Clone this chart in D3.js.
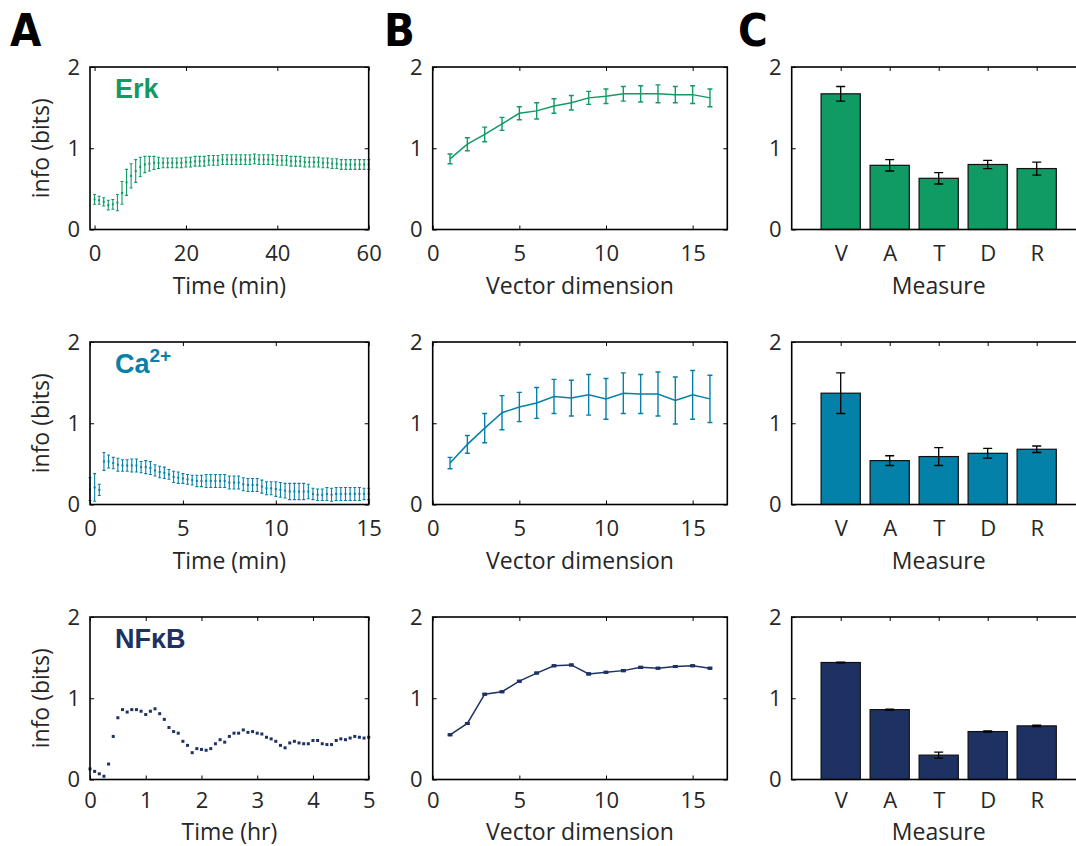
<!DOCTYPE html>
<html>
<head>
<meta charset="utf-8">
<script src="https://cdn.jsdelivr.net/npm/d3@7/dist/d3.min.js"></script>
<style>
  body { margin: 0; background: #fff; }
  svg { display: block; }
  .tick text { font-family: "Open Sans", sans-serif; font-size: 22px; fill: #262626; }
  .title { font-family: "Open Sans", sans-serif; font-size: 23px; fill: #262626; }
  .panel-letter { font-family: "Liberation Sans Narrow", "DejaVu Sans Condensed", sans-serif; font-weight: bold; font-size: 45px; fill: #000; }
  .series-name { font-family: "Liberation Sans", Arial, sans-serif; font-weight: bold; font-size: 27px; }
</style>
</head>
<body>
<div id="chart-area"></div>
<script>
// ---- data ----
const colors = { erk: "#0f9b63", ca: "#0481a9", nfkb: "#1d3163" };

// column A: time courses (Erk: 1 min steps, Ca: 15 s steps, NFkB: 5 min steps in hr)
const erkStep = 1, caStep = 0.25, nfkbStep = 1 / 12;
const erkInfo = [0.37,0.36,0.34,0.30,0.31,0.33,0.45,0.58,0.66,0.72,0.77,0.80,0.81,0.82,0.82,0.82,0.82,0.82,0.82,0.82,
  0.83,0.83,0.84,0.84,0.84,0.85,0.85,0.85,0.86,0.86,0.86,0.86,0.86,0.86,0.86,0.87,0.86,0.86,0.86,0.86,
  0.85,0.85,0.85,0.84,0.84,0.84,0.83,0.83,0.83,0.83,0.82,0.82,0.81,0.81,0.80,0.80,0.80,0.80,0.80,0.80,0.80];
const erkErr = [0.06,0.05,0.05,0.06,0.06,0.10,0.14,0.16,0.15,0.14,0.12,0.10,0.09,0.08,0.07,0.06,0.06,0.06,0.06,0.06,
  0.06,0.06,0.06,0.06,0.06,0.06,0.06,0.06,0.06,0.06,0.06,0.06,0.06,0.06,0.06,0.06,0.06,0.06,0.06,0.06,
  0.06,0.06,0.06,0.06,0.06,0.06,0.06,0.06,0.06,0.06,0.06,0.06,0.06,0.06,0.06,0.06,0.06,0.06,0.06,0.06,0.06];
const caInfo = [0.19,0.21,0.18,0.53,0.53,0.51,0.49,0.48,0.48,0.48,0.48,0.46,0.46,0.45,0.42,0.40,0.39,0.37,0.34,0.33,
  0.32,0.31,0.30,0.29,0.29,0.29,0.29,0.29,0.29,0.29,0.27,0.27,0.27,0.25,0.24,0.24,0.24,0.22,0.20,0.20,
  0.19,0.18,0.17,0.16,0.16,0.16,0.16,0.16,0.13,0.12,0.12,0.13,0.12,0.13,0.13,0.13,0.13,0.13,0.13,0.13,0.13];
const caErr = [0.14,0.17,0.07,0.11,0.08,0.07,0.08,0.07,0.07,0.08,0.08,0.07,0.08,0.08,0.07,0.07,0.07,0.06,0.07,0.07,
  0.06,0.06,0.06,0.07,0.07,0.08,0.08,0.08,0.08,0.08,0.08,0.08,0.08,0.08,0.08,0.08,0.08,0.08,0.08,0.08,
  0.09,0.09,0.09,0.10,0.10,0.10,0.10,0.09,0.07,0.07,0.07,0.08,0.08,0.08,0.08,0.08,0.08,0.08,0.08,0.07,0.07];
const nfkbInfo = [0.13,0.10,0.07,0.04,0.19,0.53,0.76,0.86,0.83,0.86,0.86,0.84,0.80,0.84,0.87,0.81,0.74,0.64,0.59,0.57,
  0.47,0.42,0.33,0.38,0.37,0.36,0.38,0.44,0.49,0.46,0.53,0.57,0.57,0.61,0.58,0.59,0.57,0.56,0.52,0.50,
  0.47,0.42,0.39,0.45,0.47,0.45,0.44,0.44,0.48,0.48,0.44,0.43,0.43,0.48,0.50,0.49,0.51,0.53,0.52,0.51,0.52];

// column B: info vs vector dimension
const dims = [1,2,3,4,5,6,7,8,9,10,11,12,13,14,15,16];
const erkVec = [0.87,1.05,1.17,1.30,1.43,1.46,1.52,1.56,1.62,1.64,1.67,1.67,1.67,1.66,1.66,1.62];
const erkVecErr = [0.06,0.08,0.09,0.08,0.08,0.10,0.09,0.09,0.08,0.09,0.09,0.10,0.11,0.10,0.11,0.11];
const caVec = [0.51,0.74,0.94,1.13,1.20,1.25,1.33,1.31,1.35,1.30,1.37,1.36,1.36,1.28,1.35,1.30];
const caVecErr = [0.07,0.11,0.18,0.21,0.18,0.19,0.21,0.22,0.25,0.25,0.25,0.24,0.27,0.29,0.30,0.29];
const nfkbVec = [0.55,0.69,1.05,1.08,1.21,1.31,1.40,1.41,1.30,1.32,1.34,1.38,1.37,1.39,1.40,1.37];
const nfkbVecErr = [0.01,0.01,0.01,0.01,0.01,0.01,0.01,0.01,0.01,0.01,0.01,0.01,0.01,0.01,0.01,0.01];

// column C: info by measure
const measures = ["V", "A", "T", "D", "R"];
const erkMeasure = [1.67, 0.79, 0.63, 0.80, 0.75];
const erkMeasureErr = [0.09, 0.07, 0.07, 0.05, 0.08];
const caMeasure = [1.37, 0.54, 0.59, 0.63, 0.68];
const caMeasureErr = [0.25, 0.06, 0.11, 0.06, 0.04];
const nfkbMeasure = [1.44, 0.86, 0.30, 0.59, 0.66];
const nfkbMeasureErr = [0.005, 0.006, 0.037, 0.008, 0.008];

const yTicks = [0, 1, 2];

// ---- layout ----
const width = 1076, height = 846;
const rowTop = [67, 342, 617];
const tickPad = [16, 16, 13];
const titleOffset = [64, 64, 60];
const panelH = 162.5;
const colA = { x: 90, w: 278.7 }, colB = { x: 432.7, w: 294.6 }, colC = { x: 791.7, w: 294 };

const svg = d3.select("#chart-area").append("svg")
  .attr("width", width).attr("height", height);
svg.append("rect").attr("width", width).attr("height", height).attr("fill", "#fff");

function makePanel(col, r, xDomain, xTicks, xTitle, opts) {
  opts = opts || {};
  const top = rowTop[r];
  const g = svg.append("g");
  const x = d3.scaleLinear().domain(xDomain).range([col.x, col.x + col.w]);
  const y = d3.scaleLinear().domain([0, 2]).range([top + panelH, top]);

  const bottom = d3.axisBottom(x).tickValues(xTicks).tickSize(-4).tickPadding(tickPad[r])
    .tickFormat(opts.tickFormat || d3.format("d"));
  g.append("g").attr("transform", `translate(0,${top + panelH})`).call(bottom);
  g.append("g").attr("transform", `translate(0,${top})`)
    .call(d3.axisTop(x).tickValues(xTicks).tickSize(-4).tickFormat(""));
  g.append("g").attr("transform", `translate(${col.x},0)`)
    .call(d3.axisLeft(y).tickValues(yTicks).tickSize(-4).tickPadding(10).tickFormat(d3.format("d")));
  g.append("g").attr("transform", `translate(${col.x + col.w},0)`)
    .call(d3.axisRight(y).tickValues(yTicks).tickSize(-4).tickFormat(""));
  g.selectAll(".domain").remove();
  g.selectAll(".tick line").attr("stroke", "#000").attr("stroke-width", 1);

  g.append("text").attr("class", "title")
    .attr("x", col.x + col.w / 2).attr("y", top + panelH + titleOffset[r])
    .attr("text-anchor", "middle").text(xTitle);

  if (opts.yTitle) {
    g.append("text").attr("class", "title")
      .attr("transform", `translate(49,${top + panelH / 2}) rotate(-90)`)
      .attr("text-anchor", "middle").text(opts.yTitle);
  }
  return { g, x, y, top };
}

function drawBox(p, col) {
  p.g.append("rect")
    .attr("x", col.x).attr("y", p.top)
    .attr("width", col.w).attr("height", panelH)
    .attr("fill", "none").attr("stroke", "#000").attr("stroke-width", 1.6);
}

function errorBars(p, data, color, cap, sw) {
  const eb = p.g.append("g").attr("stroke", color).attr("stroke-width", sw).attr("fill", "none");
  eb.selectAll("path").data(data).join("path")
    .attr("d", d => {
      const cx = p.x(d.x), y1 = p.y(d.v - d.e), y2 = p.y(d.v + d.e);
      return `M${cx},${y1}V${y2}M${cx - cap},${y1}H${cx + cap}M${cx - cap},${y2}H${cx + cap}`;
    });
}

// ---- column A ----
const seriesA = [
  { info: erkInfo, err: erkErr, step: erkStep, dom: [-1, 60], ticks: [0, 20, 40, 60], title: "Time (min)", color: colors.erk },
  { info: caInfo, err: caErr, step: caStep, dom: [0, 15], ticks: [0, 5, 10, 15], title: "Time (min)", color: colors.ca },
  { info: nfkbInfo, err: null, step: nfkbStep, dom: [0, 5], ticks: [0, 1, 2, 3, 4, 5], title: "Time (hr)", color: colors.nfkb }
];
seriesA.forEach((s, r) => {
  const p = makePanel(colA, r, s.dom, s.ticks, s.title, { yTitle: "info (bits)" });
  const data = s.info.map((v, i) => ({ x: i * s.step, v: v, e: s.err ? s.err[i] : 0 }));
  if (s.err) {
    errorBars(p, data, s.color, 1.5, 1.1);
    p.g.append("g").selectAll("rect").data(data).join("rect")
      .attr("x", d => p.x(d.x) - 1).attr("y", d => p.y(d.v) - 1)
      .attr("width", 2).attr("height", 2).attr("fill", s.color);
  } else {
    p.g.append("g").selectAll("rect").data(data).join("rect")
      .attr("x", d => p.x(d.x) - 1.5).attr("y", d => p.y(d.v) - 1.5)
      .attr("width", 3).attr("height", 3).attr("fill", s.color);
  }
  drawBox(p, colA);
});

// ---- column B ----
const seriesB = [
  { v: erkVec, e: erkVecErr, color: colors.erk },
  { v: caVec, e: caVecErr, color: colors.ca },
  { v: nfkbVec, e: nfkbVecErr, color: colors.nfkb }
];
seriesB.forEach((s, r) => {
  const p = makePanel(colB, r, [0, 17], [0, 5, 10, 15], "Vector dimension");
  const data = dims.map((d, i) => ({ x: d, v: s.v[i], e: s.e[i] }));
  p.g.append("path").datum(data)
    .attr("fill", "none").attr("stroke", s.color).attr("stroke-width", 1.5)
    .attr("d", d3.line().x(d => p.x(d.x)).y(d => p.y(d.v)));
  errorBars(p, data, s.color, 2.5, 1.4);
  if (r === 2) {
    p.g.append("g").selectAll("rect").data(data).join("rect")
      .attr("x", d => p.x(d.x) - 2).attr("y", d => p.y(d.v) - 1.5)
      .attr("width", 4).attr("height", 3).attr("fill", s.color);
  }
  drawBox(p, colB);
});

// ---- column C ----
const seriesC = [
  { v: erkMeasure, e: erkMeasureErr, color: colors.erk },
  { v: caMeasure, e: caMeasureErr, color: colors.ca },
  { v: nfkbMeasure, e: nfkbMeasureErr, color: colors.nfkb }
];
seriesC.forEach((s, r) => {
  const p = makePanel(colC, r, [0, 6], [1, 2, 3, 4, 5], "Measure",
    { tickFormat: (d) => measures[d - 1] });
  const data = measures.map((m, i) => ({ x: i + 1, v: s.v[i], e: s.e[i] }));
  const bw = p.x(0.8) - p.x(0);
  p.g.append("g").selectAll("rect").data(data).join("rect")
    .attr("x", d => p.x(d.x) - bw / 2).attr("y", d => p.y(d.v))
    .attr("width", bw).attr("height", d => p.y(0) - p.y(d.v))
    .attr("fill", s.color).attr("stroke", "#111").attr("stroke-width", 1.2);
  errorBars(p, data, "#000", 4.5, 1.3);
  drawBox(p, colC);
});

// ---- series names and panel letters ----
svg.append("text").attr("class", "series-name").attr("x", 115).attr("y", 98)
  .attr("fill", colors.erk).text("Erk");
const caName = svg.append("text").attr("class", "series-name").attr("x", 115).attr("y", 373)
  .attr("fill", colors.ca).text("Ca");
caName.append("tspan").attr("dy", -11).attr("font-size", 19).text("2+");
svg.append("text").attr("class", "series-name").attr("x", 115).attr("y", 648)
  .attr("fill", colors.nfkb).text("NFκB");

[["A", 10], ["B", 384], ["C", 738]].forEach(([t, xx]) => {
  svg.append("text").attr("class", "panel-letter").attr("x", xx).attr("y", 46).text(t);
});
</script>
</body>
</html>
